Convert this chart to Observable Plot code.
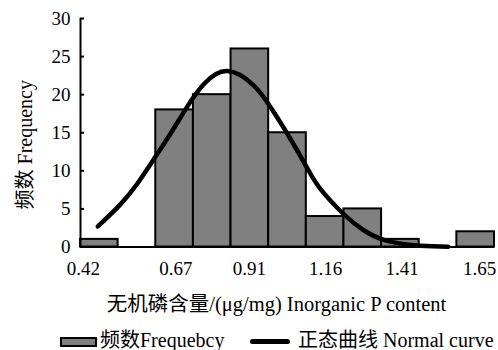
<!DOCTYPE html>
<html>
<head>
<meta charset="utf-8">
<script src="https://cdn.jsdelivr.net/npm/d3@7"></script>
<script src="https://cdn.jsdelivr.net/npm/@observablehq/plot@0.6"></script>
<style>
  html, body { margin: 0; padding: 0; background: #fff; overflow: hidden; }
  #wrap { position: relative; width: 498px; height: 350px; }
  #legend { position: absolute; top: 328px; left: 0; width: 498px; height: 24px;
    font-family: "Liberation Serif", "Noto Sans CJK SC", serif; font-size: 20px; color: #000; }
  #legend .box { position: absolute; left: 60px; top: 9px; width: 37px; height: 10px; box-sizing: border-box;
    background: #808080; border: 2px solid #000; }
  #legend .line { position: absolute; left: 250px; top: 11px; width: 40px; height: 5px; background: #000; border-radius: 2.5px; }
  #legend .t { position: absolute; top: 0; line-height: 24px; white-space: nowrap; }
</style>
</head>
<body>
<div id="wrap">
  <div id="chart"></div>
  <div id="legend"></div>
</div>
<script>
// ---- data ----
const binCenters = [0.42, 0.543, 0.666, 0.789, 0.912, 1.035, 1.158, 1.281, 1.404, 1.527, 1.65];
const counts     = [1, 0, 18, 20, 26, 15, 4, 5, 1, 0, 2];
const binWidth = 0.123;
const xTicks = [0.42, 0.67, 0.91, 1.16, 1.41, 1.65];
const yTicks = [0, 5, 10, 15, 20, 25, 30];
const curveX = [0.415, 0.489, 0.544, 0.596, 0.653, 0.707, 0.762, 0.838, 0.925, 0.979, 1.034, 1.099, 1.143, 1.219, 1.284, 1.361, 1.47, 1.56];
const curveY = [2.7, 5.6, 8.3, 11.4, 14.9, 18.4, 21.4, 23.1, 21.2, 18.4, 14.9, 10.4, 7.6, 4.3, 2.2, 0.8, 0.15, 0.03];
const yTitle = "频数 Frequency";
const xTitle = "无机磷含量/(μg/mg) Inorganic P content";
const legendBars = "频数Frequebcy";
const legendCurve = "正态曲线 Normal curve";

// ---- build tables ----
const bins = binCenters.map((c, i) => ({x1: c - binWidth / 2, x2: c + binWidth / 2, count: counts[i]}))
  .filter(d => d.count > 0);
const curve = curveX.map((x, i) => ({x, y: curveY[i]}));
const xDomain = [binCenters[0] - binWidth / 2, binCenters[binCenters.length - 1] + binWidth / 2];

const font = "'Liberation Serif', 'Noto Sans CJK SC', serif";
const H = 324;

const chart = Plot.plot({
  width: 498,
  height: H,
  marginLeft: 80,
  marginRight: 4,
  marginTop: 18,
  marginBottom: H - 246.5,
  style: {fontFamily: font, fontSize: "20px", color: "#000", background: "#fff", overflow: "visible"},
  x: {domain: xDomain, axis: null},
  y: {domain: [0, 30], label: null},
  marks: [
    Plot.rectY(bins, {x1: "x1", x2: "x2", y: "count", fill: "#808080", stroke: "#000", strokeWidth: 2}),
    Plot.line(curve, {x: "x", y: "y", curve: "natural", stroke: "#000", strokeWidth: 4.5, strokeLinecap: "round"}),
    Plot.ruleX([xDomain[0]], {stroke: "#000", strokeWidth: 2}),
    Plot.ruleY([0], {stroke: "#000", strokeWidth: 2}),
    Plot.axisY(yTicks, {tickSize: -4, tickPadding: 14, strokeWidth: 2, fontSize: 19, label: null}),
    Plot.text(xTicks.slice(0, 1), {x: d => d, frameAnchor: "bottom", lineAnchor: "middle", dy: 22, dx: -16, fontSize: 19}),
    Plot.text(xTicks.slice(1, -1), {x: d => d, frameAnchor: "bottom", lineAnchor: "middle", dy: 22, fontSize: 19}),
    Plot.text(xTicks.slice(-1), {x: d => d, frameAnchor: "bottom", lineAnchor: "middle", dy: 22, dx: 4, fontSize: 19}),
    Plot.text([xTitle], {frameAnchor: "bottom", textAnchor: "middle", lineAnchor: "middle", dx: -11, dy: 57.5, fontSize: 20.5}),
    Plot.text([yTitle], {frameAnchor: "left", textAnchor: "middle", lineAnchor: "middle", rotate: -90, dx: -55, dy: 12, fontSize: 20})
  ]
});
document.getElementById("chart").appendChild(chart);

const legend = document.getElementById("legend");
legend.innerHTML = `<div class="box"></div><span class="t" style="left:100px">${legendBars}</span>` +
  `<div class="line"></div><span class="t" style="left:298px">${legendCurve}</span>`;
</script>
</body>
</html>
